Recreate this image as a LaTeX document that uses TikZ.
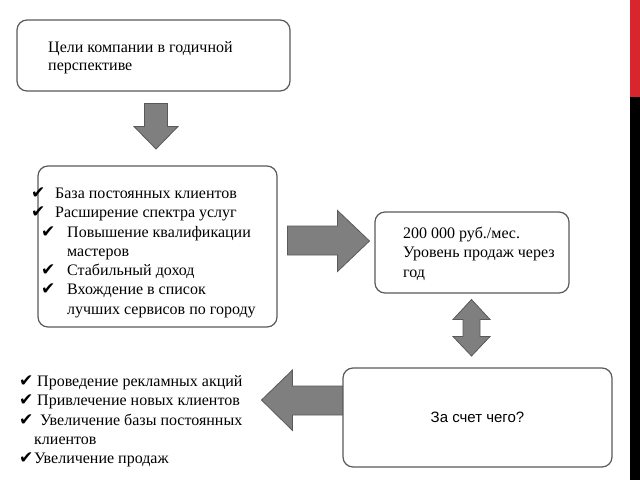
\documentclass[tikz,border=0pt]{standalone}
\usepackage{fontspec}
\setmainfont{Liberation Serif}
\newfontfamily\checkfont{DejaVu Sans}
\newfontfamily\arialfont{Liberation Sans}
\usetikzlibrary{positioning}
\definecolor{boxline}{HTML}{5A5A5A}
\definecolor{arrowfill}{HTML}{7F7F7F}
\definecolor{arrowline}{HTML}{595959}
\definecolor{barred}{HTML}{D9262E}
\tikzstyle{goalbox}=[rectangle,rounded corners=10pt,draw=boxline,line width=1.2pt,fill=white]
\tikzstyle{blockarrow}=[fill=arrowfill,draw=arrowline,line width=0.8pt,line join=miter]
\tikzstyle{listtext}=[inner sep=0pt,align=left,anchor=north west,font=\fontsize{16}{19.3}\selectfont]
\newcommand{\chkbox}[1]{\makebox[#1][l]{\checkfont\fontsize{17}{19.3}\selectfont\char"2714}}

\begin{document}
\begin{tikzpicture}[x=1pt,y=-1pt]
    \useasboundingbox (0,0) rectangle (640,480);
    \fill[barred] (630,0) rectangle (640,97);
    \fill[black] (630,97) rectangle (640,480);

    % boxes
    \node[goalbox,minimum width=273pt,minimum height=71pt] (goals) at (153.5,55.5) {};
    \node[goalbox,minimum width=239pt,minimum height=161pt] (base) at (157.5,246.5) {};
    \node[goalbox,minimum width=194pt,minimum height=81pt] (target) at (472,252.5) {};

    % block arrows
    \draw[blockarrow] (144.5,103.5) -- (167.5,103.5) -- (167.5,126.5) -- (178,126.5)
        -- (156,149) -- (134,126.5) -- (144.5,126.5) -- cycle;
    \draw[blockarrow] (287.5,226) -- (337.5,226) -- (337.5,210.5) -- (369.5,241)
        -- (337.5,271.5) -- (337.5,255) -- (287.5,255) -- cycle;
    \draw[blockarrow] (471.5,299.5) -- (490,319.5) -- (480,319.5) -- (480,336.5)
        -- (490,336.5) -- (471.5,356) -- (453,336.5) -- (463,336.5) -- (463,319.5)
        -- (453,319.5) -- cycle;
    \draw[blockarrow] (261.5,400) -- (292.5,370) -- (292.5,386) -- (345,386)
        -- (345,415) -- (292.5,415) -- (292.5,430.5) -- cycle;

    \node[goalbox,minimum width=269pt,minimum height=99pt,
        font=\arialfont\fontsize{15}{18}\selectfont] (how) at (477.5,417.5) {За счет чего?};

    % texts
    \node[listtext,font=\fontsize{16}{18}\selectfont] (goalstext) at (48,41.5)
        {Цели компании в годичной\\перспективе};
    \node[listtext] (basetext) at (31,187.5)
        {\chkbox{24pt}База постоянных клиентов\\
         \chkbox{24pt}Расширение спектра услуг\\
         \hspace*{10pt}\chkbox{26pt}Повышение квалификации\\
         \hspace*{36pt}мастеров\\
         \hspace*{10pt}\chkbox{26pt}Стабильный доход\\
         \hspace*{10pt}\chkbox{26pt}Вхождение в список\\
         \hspace*{36pt}лучших сервисов по городу};
    \node[listtext,font=\fontsize{16}{19.5}\selectfont] (targettext) at (403,226.5)
        {200 000 руб./мес.\\Уровень продаж через\\год};
    \node[listtext] (howtext) at (19,375.5)
        {\chkbox{18pt}Проведение рекламных акций\\
         \chkbox{18pt}Привлечение новых клиентов\\
         \chkbox{21pt}Увеличение базы постоянных\\
         \hspace*{15pt}клиентов\\
         \chkbox{15pt}Увеличение продаж};
\end{tikzpicture}
\end{document}
